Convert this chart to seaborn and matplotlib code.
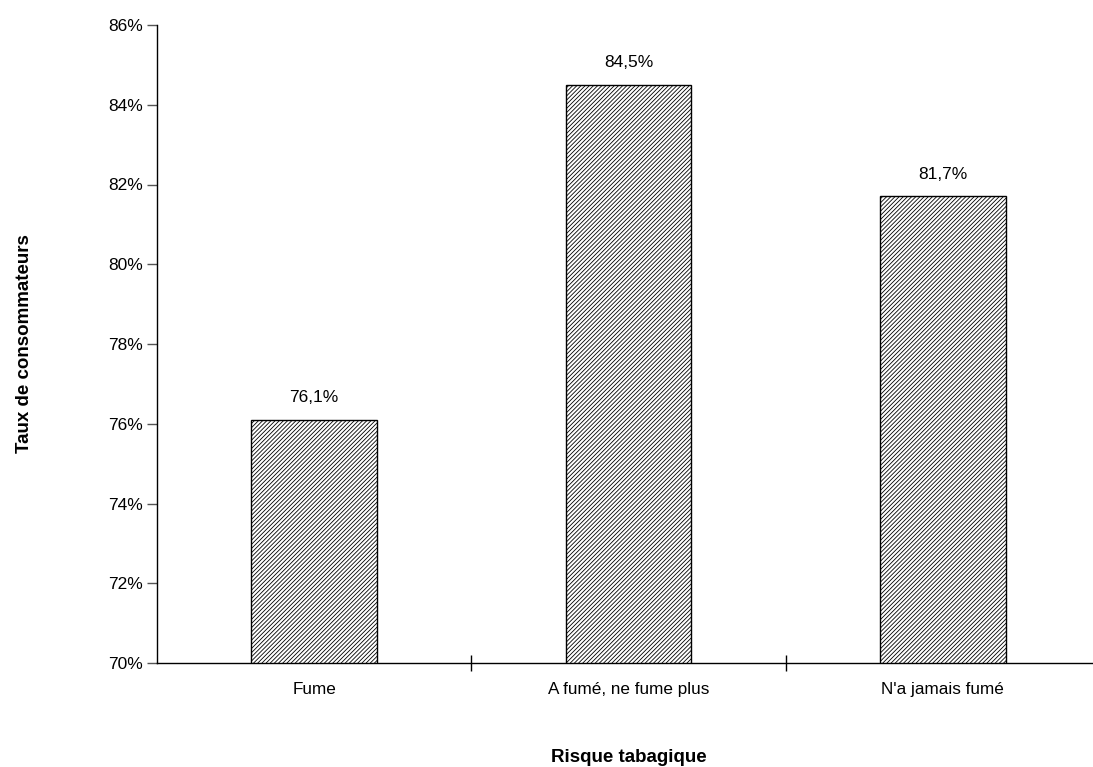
import matplotlib
matplotlib.use("Agg")
import matplotlib.pyplot as plt
import seaborn as sns
import pandas as pd
from matplotlib.ticker import FuncFormatter

categories = ["Fume", "A fumé, ne fume plus", "N'a jamais fumé"]
values = [76.1, 84.5, 81.7]
value_labels = ["76,1%", "84,5%", "81,7%"]
yticks = [70, 72, 74, 76, 78, 80, 82, 84, 86]

sns.set_theme(style="white")
plt.rcParams['font.family'] = ['Liberation Sans', 'DejaVu Sans']
plt.rcParams['hatch.linewidth'] = 0.6
plt.rcParams['text.color'] = 'black'
plt.rcParams['axes.labelcolor'] = 'black'
plt.rcParams['xtick.color'] = 'black'
plt.rcParams['ytick.color'] = 'black'

W, H = 1093, 767
fig = plt.figure(figsize=(W / 100, H / 100), dpi=100)
ax = fig.add_axes([157 / W, 1 - 663 / H, (1100 - 157) / W, (663 - 25) / H])

df = pd.DataFrame({"cat": categories, "val": values})
sns.barplot(data=df, x="cat", y="val", color="white", edgecolor="black",
            linewidth=1.0, width=0.4, ax=ax)
for p in ax.patches:
    p.set_hatch("////////")
    p.set_facecolor("white")
    p.set_edgecolor("black")

ax.set_xlim(-0.5, 2.5)
ax.set_ylim(70, 86)
ax.set_yticks(yticks)
ax.yaxis.set_major_formatter(FuncFormatter(lambda v, _: f"{v:.0f}%"))

for i, (v, lab) in enumerate(zip(values, value_labels)):
    ax.text(i, v + 0.37, lab, ha="center", va="bottom", fontsize=12.5, color="black")

for s in ["top", "right"]:
    ax.spines[s].set_visible(False)
for s in ["left", "bottom"]:
    ax.spines[s].set_color("black")
    ax.spines[s].set_linewidth(1.0)

ax.tick_params(axis="y", which="major", left=True, direction="out", length=7,
               width=1, color="#555555", labelsize=12.5, pad=3, labelcolor="black")
ax.tick_params(axis="x", which="major", bottom=False, labelsize=12.3, pad=8,
               labelcolor="black")
ax.set_xticks([0.5, 1.5], minor=True)
ax.tick_params(axis="x", which="minor", bottom=True, direction="inout",
               length=12, width=1, color="black")

ax.set_xlabel("Risque tabagique", fontsize=13.5, fontweight="bold", labelpad=37)
ax.set_ylabel("Taux de consommateurs", fontsize=13.5, fontweight="bold", labelpad=54)

fig.savefig("out.png", dpi=100)
